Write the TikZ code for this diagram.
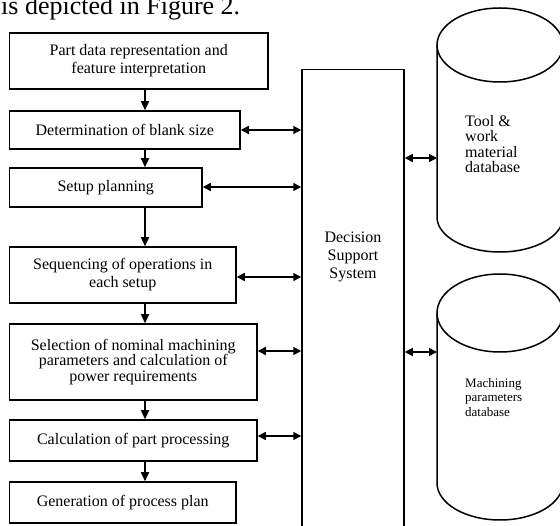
\documentclass[tikz,border=0pt]{standalone}
\usepackage{fontspec}
\setmainfont{Liberation Serif}
\usetikzlibrary{arrows.meta}
\begin{document}
\begin{tikzpicture}[x=1pt,y=-1pt,
  box/.style={draw, line width=1.5pt, inner sep=0pt, align=center, font=\fontsize{16}{18}\selectfont},
  flow/.style={line width=1.5pt, -{Triangle[length=9pt,width=8pt]}},
  dbl/.style={line width=1.5pt, {Triangle[length=8pt,width=8pt]}-{Triangle[length=8pt,width=8pt]}},
  cyl/.style={line width=1.5pt}]
\useasboundingbox (0,0) rectangle (560,526);
% header fragment
\node[anchor=base west, inner sep=0pt, font=\fontsize{26}{30}\selectfont] (hdr) at (1,15) {is depicted in Figure 2.};
% process boxes
\node[box, minimum width=258.5pt, minimum height=56pt] (b1) at (138.75,61) {Part data representation and\\feature interpretation};
\node[box, minimum width=230.5pt, minimum height=38pt] (b2) at (124.75,130) {Determination of blank size};
\node[box, minimum width=192.5pt, minimum height=39pt] (b3) at (105.75,187.5) {Setup planning};
\node[box, minimum width=226.5pt, minimum height=56pt] (b4) at (122.75,275) {Sequencing of operations in\\each setup};
\node[box, minimum width=247.5pt, minimum height=76pt, font=\fontsize{16}{15.5}\selectfont] (b5) at (133.25,362) {Selection of nominal machining\\parameters and calculation of\\power requirements};
\node[box, minimum width=247.5pt, minimum height=41pt] (b6) at (133.25,440.5) {Calculation of part processing};
\node[box, minimum width=226.5pt, minimum height=41pt] (b7) at (122.75,502.5) {Generation of process plan};
% decision support system
\node[draw, line width=1.5pt, minimum width=102pt, minimum height=480pt, anchor=north, inner sep=0pt] (dss) at (353,69) {};
\node[align=center, inner sep=0pt, font=\fontsize{16}{18}\selectfont] (dsst) at (353,257) {Decision\\Support\\System};
% vertical flow
\coordinate (ax) at (145,0);
\draw[flow] (b1.south -| ax) -- (b2.north -| ax);
\draw[flow] (b2.south -| ax) -- (b3.north -| ax);
\draw[flow] (b3.south -| ax) -- (b4.north -| ax);
\draw[flow] (b4.south -| ax) -- (b5.north -| ax);
\draw[flow] (b5.south -| ax) -- (b6.north -| ax);
\draw[flow] (b6.south -| ax) -- (b7.north -| ax);
% links to DSS
\coordinate (y2) at (0,130);
\coordinate (y3) at (0,187);
\coordinate (y4) at (0,277);
\coordinate (y5) at (0,351);
\coordinate (y6) at (0,436);
\draw[dbl] (b2.east |- y2) -- (dss.west |- y2);
\draw[dbl] (b3.east |- y3) -- (dss.west |- y3);
\draw[dbl] (b4.east |- y4) -- (dss.west |- y4);
\draw[dbl] (b5.east |- y5) -- (dss.west |- y5);
\draw[dbl] (b6.east |- y6) -- (dss.west |- y6);
% databases
\coordinate (c1) at (437,158);
\coordinate (c2) at (437,352);
\draw[cyl] (437,45) -- (437,217) arc[start angle=180, end angle=360, x radius=63pt, y radius=35pt] -- (563,45);
\draw[cyl, fill=white] (500,45) ellipse [x radius=63pt, y radius=37pt];
\draw[cyl] (437,313) -- (437,483) arc[start angle=180, end angle=360, x radius=63pt, y radius=37pt] -- (563,313);
\draw[cyl, fill=white] (500,313) ellipse [x radius=63pt, y radius=39pt];
\draw[dbl] (dss.east |- c1) -- (c1);
\draw[dbl] (dss.east |- c2) -- (c2);
\node[anchor=north west, align=left, inner sep=0pt, font=\fontsize{16}{15.5}\selectfont] (db1) at (465,115) {Tool \&\\work\\material\\database};
\node[anchor=north west, align=left, inner sep=0pt, font=\fontsize{13}{14.5}\selectfont] (db2) at (465,378) {Machining\\parameters\\database};
\end{tikzpicture}
\end{document}
